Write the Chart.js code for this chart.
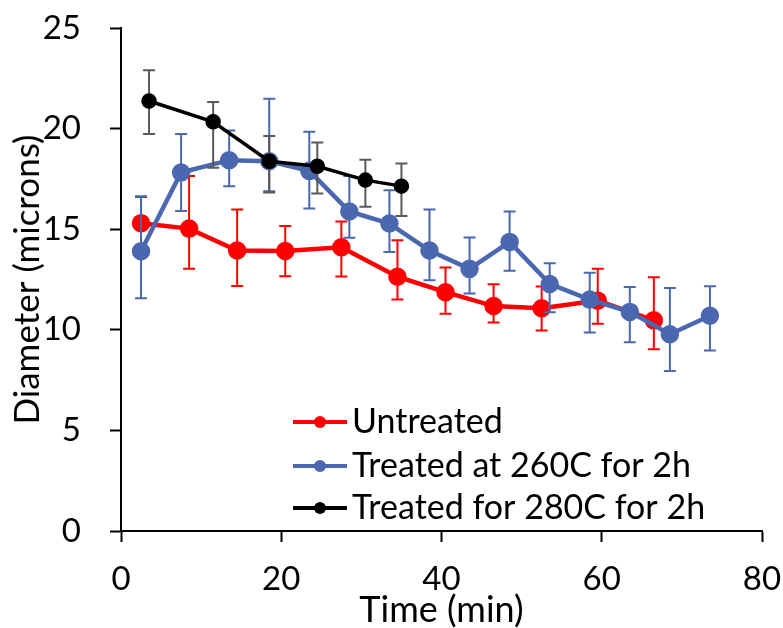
<!DOCTYPE html>
<html lang="en">
<head>
    <meta charset="UTF-8">
    <title>Diameter vs time</title>
    <style>
        html, body { margin: 0; padding: 0; background: #fff; }
        #wrap { width: 783px; height: 628px; }
    </style>
</head>
<body>
    <div id="wrap"><canvas id="grafico" width="783" height="628"></canvas></div>

<script src="https://cdn.jsdelivr.net/npm/chart.js"></script>
<script>
    // --- data ---
    const seriesNames = ['Untreated', 'Treated at 260C for 2h', 'Treated for 280C for 2h'];

    const timeUntreated = [2.5, 8.5, 14.5, 20.5, 27.5, 34.5, 40.5, 46.5, 52.5, 59.5, 66.5];
    const diamUntreated = [15.3, 15.03, 13.94, 13.92, 14.1, 12.64, 11.87, 11.18, 11.07, 11.45, 10.47];
    const errUpUntreated = [1.3, 2.62, 2.04, 1.24, 1.28, 1.81, 1.23, 1.08, 1.08, 1.59, 2.14];
    const errDownUntreated = [1.3, 1.99, 1.76, 1.26, 1.45, 1.14, 1.07, 0.82, 1.11, 1.15, 1.44];

    const time260 = [2.5, 7.5, 13.5, 18.5, 23.5, 28.5, 33.5, 38.5, 43.5, 48.5, 53.5, 58.5, 63.5, 68.5, 73.5];
    const diam260 = [13.9, 17.82, 18.43, 18.38, 17.9, 15.88, 15.28, 13.94, 13.03, 14.37, 12.28, 11.5, 10.89, 9.78, 10.7];
    const errUp260 = [2.74, 1.91, 1.48, 3.1, 1.94, 1.76, 1.66, 2.04, 1.56, 1.51, 1.03, 1.34, 1.24, 2.3, 1.46];
    const errDown260 = [2.33, 1.92, 1.29, 1.5, 1.87, 1.31, 1.41, 1.48, 1.23, 1.43, 1.41, 1.64, 1.51, 1.83, 1.73];

    const time280 = [3.5, 11.5, 18.5, 24.5, 30.5, 35];
    const diam280 = [21.37, 20.34, 18.38, 18.13, 17.44, 17.14];
    const errUp280 = [1.53, 0.98, 1.25, 1.18, 1.01, 1.13];
    const errDown280 = [1.64, 2.29, 1.55, 1.35, 1.33, 1.48];

    const xTicks = [0, 20, 40, 60, 80];
    const yTicks = [0, 5, 10, 15, 20, 25];

    const FONT = 'Lato, "Open Sans", sans-serif';

    function puntos(xs, ys, up, down) {
        return xs.map((x, i) => ({ x: x, y: ys[i], up: up[i], down: down[i] }));
    }

    // error bars drawn right before each dataset's line and markers
    const barrasError = {
        id: 'barrasError',
        beforeDatasetDraw(chart, args) {
            const ds = chart.data.datasets[args.index];
            const meta = args.meta;
            const yScale = chart.scales.y;
            const ctx = chart.ctx;
            ctx.save();
            ctx.strokeStyle = ds.errorColor;
            ctx.lineWidth = 2;
            meta.data.forEach((el, i) => {
                const p = ds.data[i];
                const top = yScale.getPixelForValue(p.y + p.up);
                const bot = yScale.getPixelForValue(p.y - p.down);
                const x = el.x;
                ctx.beginPath();
                ctx.moveTo(x, top); ctx.lineTo(x, bot);
                ctx.moveTo(x - 6, top); ctx.lineTo(x + 6, top);
                ctx.moveTo(x - 6, bot); ctx.lineTo(x + 6, bot);
                ctx.stroke();
            });
            ctx.restore();
        }
    };

    // legend inside the plot, lower middle
    const leyenda = {
        id: 'leyenda',
        afterDraw(chart) {
            const ctx = chart.ctx;
            const rows = [422, 466, 508];
            ctx.save();
            chart.data.datasets.forEach((ds, i) => {
                const y = rows[i];
                ctx.strokeStyle = ds.borderColor;
                ctx.lineWidth = 4;
                ctx.beginPath();
                ctx.moveTo(293, y); ctx.lineTo(347, y);
                ctx.stroke();
                ctx.fillStyle = ds.borderColor;
                ctx.beginPath();
                ctx.arc(320, y, 6, 0, Math.PI * 2);
                ctx.fill();
                ctx.fillStyle = '#000';
                ctx.font = '34px ' + FONT;
                ctx.textBaseline = 'middle';
                ctx.textAlign = 'left';
                ctx.fillText(seriesNames[i], 352, y);
            });
            ctx.restore();
        }
    };

    Chart.defaults.font.family = FONT;
    Chart.defaults.color = '#000';

    new Chart(document.getElementById('grafico').getContext('2d'), {
        type: 'scatter',
        data: {
            datasets: [{
                label: seriesNames[0],
                data: puntos(timeUntreated, diamUntreated, errUpUntreated, errDownUntreated),
                showLine: true,
                borderColor: '#ff0000',
                backgroundColor: '#ff0000',
                errorColor: '#ff0000',
                borderWidth: 4.5,
                pointRadius: 7,
                order: 3
            }, {
                label: seriesNames[1],
                data: puntos(time260, diam260, errUp260, errDown260),
                showLine: true,
                borderColor: '#4a67b0',
                backgroundColor: '#4a67b0',
                errorColor: '#4a67b0',
                borderWidth: 4.5,
                pointRadius: 7,
                order: 2
            }, {
                label: seriesNames[2],
                data: puntos(time280, diam280, errUp280, errDown280),
                showLine: true,
                borderColor: '#000000',
                backgroundColor: '#000000',
                errorColor: '#595959',
                borderWidth: 3.5,
                pointRadius: 6,
                order: 1
            }]
        },
        options: {
            responsive: false,
            animation: false,
            layout: { padding: { top: 28, right: 21, left: 0, bottom: 0 } },
            plugins: {
                legend: { display: false },
                tooltip: { enabled: false }
            },
            scales: {
                x: {
                    type: 'linear',
                    min: 0, max: 80,
                    afterFit(s) { s.height = 97; s.paddingLeft = 0; s.paddingRight = 0; },
                    afterBuildTicks(s) { s.ticks = xTicks.map(v => ({ value: v })); },
                    ticks: { font: { size: 33 }, padding: 18, maxRotation: 0 },
                    grid: { drawOnChartArea: false, tickLength: 11, color: '#000', tickWidth: 2 },
                    border: { color: '#000', width: 2 },
                    title: { display: true, text: 'Time (min)', font: { size: 36, lineHeight: 1 }, padding: { top: -11, bottom: 0 } }
                },
                y: {
                    min: 0, max: 25,
                    afterFit(s) { s.width = 121; s.paddingTop = 0; s.paddingBottom = 0; },
                    afterBuildTicks(s) { s.ticks = yTicks.map(v => ({ value: v })); },
                    ticks: { font: { size: 33 }, padding: 29 },
                    grid: { drawOnChartArea: false, tickLength: 11, color: '#000', tickWidth: 2 },
                    border: { color: '#000', width: 2 },
                    title: { display: true, text: 'Diameter (microns)', font: { size: 35, lineHeight: 1 }, padding: { top: 10, bottom: 0 } }
                }
            }
        },
        plugins: [barrasError, leyenda]
    });
</script>
</body>
</html>
